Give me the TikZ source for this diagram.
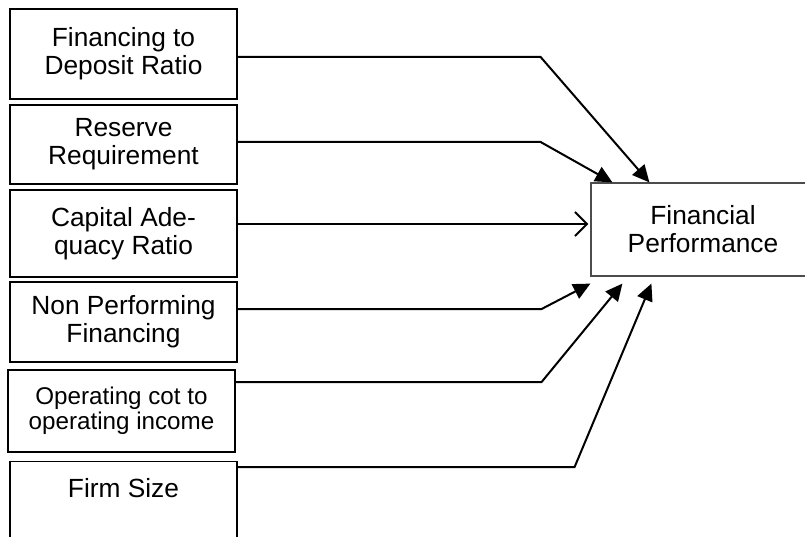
\documentclass[tikz,border=0pt]{standalone}
\usepackage{fontspec}
\setmainfont{Liberation Sans}
\usetikzlibrary{arrows.meta}

\begin{document}
\begin{tikzpicture}[x=1pt,y=-1pt,
  box/.style={draw, line width=1.2pt, minimum width=227pt, inner sep=0pt, align=center,
    font=\fontsize{26.3}{28}\selectfont},
  arr/.style={line width=2pt, line join=miter, -{Triangle[length=17pt,width=16pt]}},
  openarr/.style={line width=2pt, -{Straight Barb[length=12pt,width=24pt,line width=2pt]}}]
\path[use as bounding box, clip] (0,0) rectangle (805,537);
% variables
\node[box, minimum height=90pt] (fdr) at (123.5,54) {Financing to\\Deposit Ratio};
\node[box, minimum height=79pt] (rr) at (123.5,144.5) {Reserve\\Requirement};
\node[box, minimum height=87pt] (car) at (123.5,233.5) {Capital Ade-\\quacy Ratio};
\node[box, minimum height=80pt] (npf) at (123.5,322) {Non Performing\\Financing};
\node[box, minimum height=82pt, font=\fontsize{24.2}{25}\selectfont] (bopo) at (121.5,411) {Operating cot to\\operating income};
\node[box, anchor=north, text height=36pt, text depth=60pt, inner ysep=0pt] (size) at (123.5,461) {Firm Size};
\node[box, draw=black!70, minimum width=224pt, minimum height=93pt] (perf) at (703,229.5) {Financial\\Performance};
% arrows
\draw[arr] ([yshift=-3pt]fdr.east) -- ++(303,0) -- ([xshift=59pt]perf.north west);
\draw[arr] ([yshift=2.5pt]rr.east) -- ++(303,0) -- ([xshift=22pt]perf.north west);
\coordinate (c) at ([yshift=9.5pt]car.east);
\draw[openarr] (c) -- ([xshift=-2pt]c -| perf.west);
\draw[arr] ([yshift=13pt]npf.east) -- ++(304,0) -- ([yshift=-7pt]perf.south west);
\draw[arr] ([yshift=29pt]bopo.east) -- ++(306,0) -- ([xshift=32pt,yshift=-7pt]perf.south west);
\draw[arr] ([yshift=-6pt]size.north east) -- ++(337,0) -- ([xshift=61pt,yshift=-7pt]perf.south west);
\end{tikzpicture}
\end{document}
